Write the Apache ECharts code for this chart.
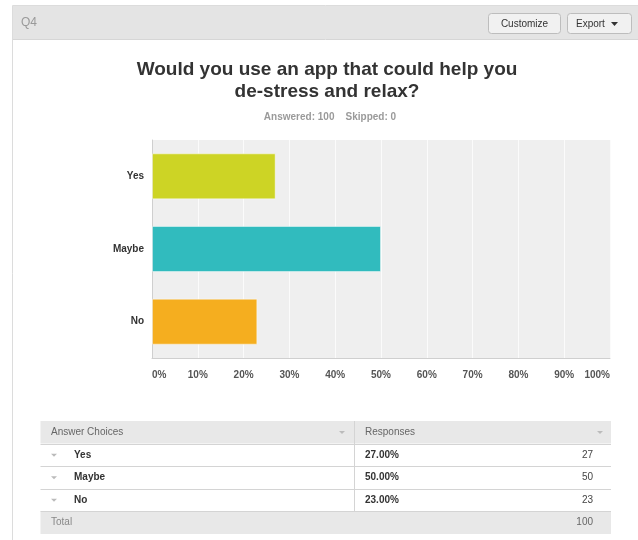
<!DOCTYPE html>
<html>
<head>
<meta charset="utf-8">
<script src="https://cdn.jsdelivr.net/npm/echarts@6/dist/echarts.min.js"></script>
<style>
html,body{margin:0;padding:0;background:#fff;}
#chart{width:638px;height:540px;}
</style>
</head>
<body>
<div id="chart"></div>
<script>
const categories = ['Yes', 'Maybe', 'No'];
const percents = [27, 50, 23];
const counts = [27, 50, 23];
const total = 100;
const barColors = ['#cdd425', '#31bbbe', '#f5ae1f'];
const xTicks = [0, 10, 20, 30, 40, 50, 60, 70, 80, 90, 100];

const FONT = '"Liberation Sans", Arial, sans-serif';
const chart = echarts.init(document.getElementById('chart'), null, {renderer: 'canvas'});

const graphics = [];
// Panel
graphics.push({type: 'rect', shape: {x: 12.5, y: 5.5, width: 640, height: 540}, style: {fill: '#fff', stroke: '#dcdcdc', lineWidth: 1}, z: -10});
graphics.push({type: 'rect', shape: {x: 13, y: 6, width: 630, height: 33}, style: {fill: '#e4e4e4'}, z: -9});
graphics.push({type: 'line', shape: {x1: 13, y1: 39.5, x2: 638, y2: 39.5}, style: {stroke: '#d6d6d6', lineWidth: 1}, z: -9});
graphics.push({type: 'text', x: 21, y: 23, style: {text: 'Q4', font: '12px ' + FONT, fill: '#999', verticalAlign: 'middle'}});
// Buttons
graphics.push({type: 'rect', shape: {x: 488.5, y: 13.5, width: 72, height: 20, r: 3}, style: {fill: '#f1f1f1', stroke: '#bdbdbd', lineWidth: 1}});
graphics.push({type: 'text', x: 524.5, y: 24, style: {text: 'Customize', font: '10px ' + FONT, fill: '#333', align: 'center', verticalAlign: 'middle'}});
graphics.push({type: 'rect', shape: {x: 567.5, y: 13.5, width: 64, height: 20, r: 3}, style: {fill: '#f1f1f1', stroke: '#bdbdbd', lineWidth: 1}});
graphics.push({type: 'text', x: 576, y: 24, style: {text: 'Export', font: '10px ' + FONT, fill: '#333', verticalAlign: 'middle'}});
graphics.push({type: 'polygon', shape: {points: [[611, 22], [618, 22], [614.5, 26]]}, style: {fill: '#333'}});

// Table
const tL = 40.5, tR = 611, divX = 354.5, rowH = 22.5, tTop = 421;
graphics.push({type: 'rect', shape: {x: tL, y: tTop, width: tR - tL, height: rowH}, style: {fill: '#e8e8e8'}});
graphics.push({type: 'text', x: 51, y: tTop + rowH / 2, style: {text: 'Answer Choices', font: '10px ' + FONT, fill: '#666', verticalAlign: 'middle'}});
graphics.push({type: 'text', x: 365, y: tTop + rowH / 2, style: {text: 'Responses', font: '10px ' + FONT, fill: '#666', verticalAlign: 'middle'}});
graphics.push({type: 'polygon', shape: {points: [[339, 431], [345, 431], [342, 434]]}, style: {fill: '#bbb'}});
graphics.push({type: 'polygon', shape: {points: [[597, 431], [603, 431], [600, 434]]}, style: {fill: '#bbb'}});
categories.forEach(function (c, i) {
  const y0 = tTop + rowH * (i + 1);
  const cy = y0 + rowH / 2;
  graphics.push({type: 'line', shape: {x1: tL, y1: Math.round(y0) + 0.5, x2: tR, y2: Math.round(y0) + 0.5}, style: {stroke: '#d4d4d4', lineWidth: 1.2}});
  graphics.push({type: 'polygon', shape: {points: [[51, cy - 1], [57, cy - 1], [54, cy + 2]]}, style: {fill: '#bbb'}});
  graphics.push({type: 'text', x: 74, y: cy, style: {text: c, font: 'bold 10px ' + FONT, fill: '#333', verticalAlign: 'middle'}});
  graphics.push({type: 'text', x: 365, y: cy, style: {text: percents[i].toFixed(2) + '%', font: 'bold 10px ' + FONT, fill: '#333', verticalAlign: 'middle'}});
  graphics.push({type: 'text', x: 593, y: cy, style: {text: String(counts[i]), font: '10px ' + FONT, fill: '#444', align: 'right', verticalAlign: 'middle'}});
});
const totY = tTop + rowH * 4;
graphics.push({type: 'rect', shape: {x: tL, y: totY + 0.5, width: tR - tL, height: rowH}, style: {fill: '#e8e8e8'}});
graphics.push({type: 'line', shape: {x1: tL, y1: Math.round(totY) + 0.5, x2: tR, y2: Math.round(totY) + 0.5}, style: {stroke: '#d4d4d4', lineWidth: 1.2}});
graphics.push({type: 'line', shape: {x1: divX, y1: tTop, x2: divX, y2: totY}, style: {stroke: '#d4d4d4', lineWidth: 1}});
graphics.push({type: 'text', x: 51, y: totY + rowH / 2, style: {text: 'Total', font: '10px ' + FONT, fill: '#888', verticalAlign: 'middle'}});
graphics.push({type: 'text', x: 593, y: totY + rowH / 2, style: {text: String(total), font: '10px ' + FONT, fill: '#666', align: 'right', verticalAlign: 'middle'}});

const option = {
  animation: false,
  backgroundColor: '#fff',
  title: [{
    text: 'Would you use an app that could help you\nde-stress and relax?',
    left: 322, top: 54, textAlign: 'center',
    textStyle: {fontFamily: FONT, fontSize: 19, fontWeight: 'bold', color: '#333', lineHeight: 22}
  }, {
    text: 'Answered: 100    Skipped: 0',
    left: 325, top: 107, textAlign: 'center',
    textStyle: {fontFamily: FONT, fontSize: 10, fontWeight: 'bold', color: '#9a9a9a'}
  }],
  grid: {left: 152, right: 28, top: 140, bottom: 182, show: true, backgroundColor: '#efefef', borderWidth: 0},
  xAxis: {
    type: 'value', min: 0, max: 100, interval: 10,
    axisLine: {show: true, lineStyle: {color: '#cfcfcf', width: 1}},
    axisTick: {show: false},
    splitLine: {show: true, lineStyle: {color: '#fbfbfb', width: 1}},
    axisLabel: {
      formatter: '{value}%', margin: 12, color: '#555', fontSize: 10, fontWeight: 'bold', fontFamily: FONT,
      alignMinLabel: 'left', alignMaxLabel: 'right'
    }
  },
  yAxis: {
    type: 'category', data: categories, inverse: true,
    axisLine: {show: true, lineStyle: {color: '#cfcfcf', width: 1}},
    axisTick: {show: false},
    axisLabel: {color: '#333', fontSize: 10, fontWeight: 'bold', fontFamily: FONT, margin: 8}
  },
  series: [{
    type: 'bar',
    barWidth: 46,
    data: percents.map(function (v, i) { return {value: v, itemStyle: {color: barColors[i]}}; }),
    itemStyle: {borderColor: 'rgba(255,255,255,0.45)', borderWidth: 1}
  }],
  graphic: graphics
};
chart.setOption(option);
</script>
</body>
</html>
